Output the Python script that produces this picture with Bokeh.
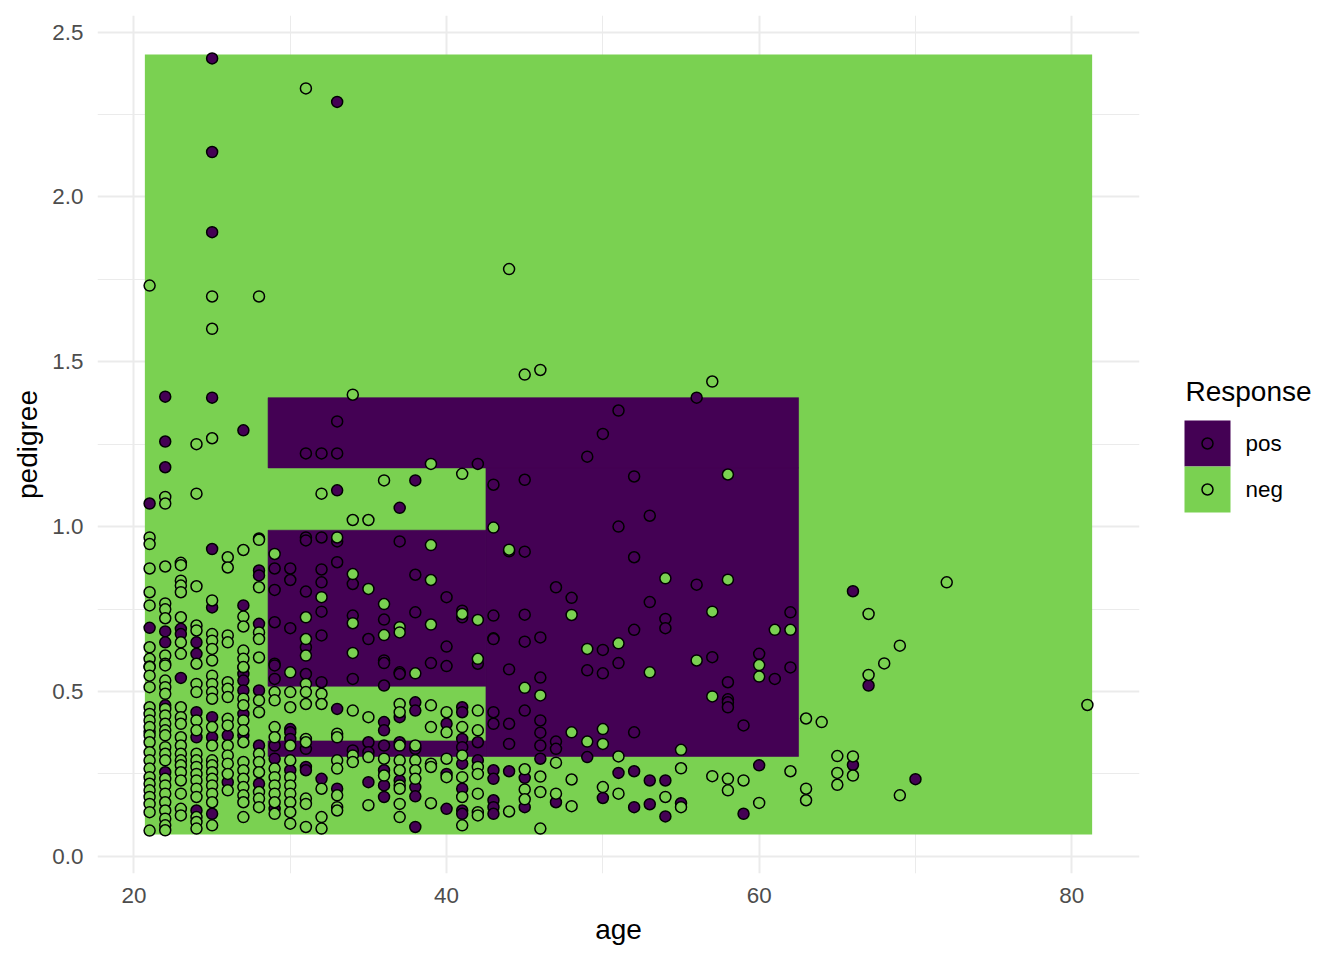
from bokeh.plotting import figure
from bokeh.models import Range1d, FixedTicker, PrintfTickFormatter, ColumnDataSource
from bokeh.layouts import row
from bokeh.embed import file_html
from bokeh.resources import INLINE
from bokeh.core.properties import value

PURPLE = "#440154"
GREEN = "#7AD151"
FONT = "Liberation Sans"

# ---- observations: (age, pedigree), by actual response ----
pos_points = [
    (25, 2.420), (33, 2.288), (25, 2.136), (25, 1.893), (22, 1.394), (25, 1.391), (56, 1.391),
    (33, 1.319), (27, 1.292), (22, 1.258), (31, 1.222), (32, 1.222), (33, 1.222), (51, 1.352),
    (50, 1.281), (49, 1.212), (42, 1.190), (22, 1.180), (45, 1.142), (43, 1.127), (52, 1.152),
    (38, 1.140), (33, 1.110), (21, 1.070), (37, 1.057), (53, 1.033), (51, 1.000), (44, 0.925),
    (45, 0.924), (52, 0.907), (25, 0.932), (28, 0.964), (31, 0.967), (31, 0.958), (32, 0.967),
    (33, 0.955), (37, 0.955), (28, 0.867), (28, 0.852), (29, 0.873), (29, 0.808), (30, 0.873),
    (30, 0.838), (32, 0.870), (32, 0.831), (33, 0.892), (34, 0.826), (38, 0.854), (31, 0.803),
    (40, 0.786), (56, 0.824), (47, 0.816), (48, 0.784), (53, 0.771), (25, 0.755), (27, 0.761),
    (32, 0.742), (34, 0.730), (36, 0.718), (38, 0.740), (41, 0.745), (41, 0.725), (43, 0.730),
    (45, 0.733), (62, 0.740), (66, 0.804), (21, 0.693), (22, 0.682), (22, 0.649), (23, 0.690),
    (23, 0.674), (24, 0.649), (24, 0.614), (28, 0.705), (29, 0.710), (29, 0.584), (30, 0.692),
    (32, 0.670), (35, 0.659), (31, 0.634), (40, 0.636), (43, 0.661), (36, 0.594), (36, 0.586),
    (39, 0.586), (40, 0.577), (42, 0.584), (37, 0.558), (54, 0.720), (54, 0.692), (52, 0.687),
    (43, 0.659), (45, 0.651), (46, 0.664), (50, 0.626), (57, 0.604), (60, 0.614), (61, 0.538),
    (62, 0.573), (44, 0.567), (46, 0.542), (49, 0.564), (50, 0.555), (51, 0.586), (58, 0.528),
    (58, 0.476), (58, 0.467), (58, 0.452), (67, 0.518),
    (21, 0.378), (22, 0.458), (22, 0.255), (23, 0.541), (24, 0.437), (24, 0.361), (24, 0.139),
    (25, 0.422), (25, 0.361), (25, 0.129), (26, 0.367), (26, 0.225), (27, 0.553), (27, 0.533),
    (27, 0.503), (27, 0.432), (27, 0.367), (28, 0.503), (28, 0.336), (28, 0.220), (29, 0.579),
    (29, 0.538), (29, 0.336), (29, 0.296), (29, 0.144),
    (30, 0.386), (30, 0.376), (30, 0.356), (30, 0.261), (31, 0.553), (31, 0.326), (31, 0.271),
    (31, 0.261), (32, 0.528), (32, 0.235), (33, 0.447), (33, 0.205), (34, 0.538), (34, 0.321),
    (35, 0.346), (35, 0.316), (35, 0.225), (36, 0.518), (36, 0.407), (36, 0.382), (36, 0.336),
    (36, 0.261), (36, 0.215), (36, 0.180), (37, 0.553), (37, 0.422), (37, 0.346), (37, 0.230),
    (38, 0.467), (38, 0.442), (38, 0.326), (38, 0.210), (38, 0.182), (38, 0.089), (40, 0.402),
    (40, 0.250), (40, 0.144), (41, 0.452), (41, 0.437), (41, 0.356), (41, 0.331), (41, 0.281),
    (41, 0.205), (41, 0.139), (41, 0.129), (42, 0.346), (42, 0.291), (43, 0.437), (43, 0.402),
    (43, 0.261), (43, 0.235), (43, 0.170), (43, 0.149), (43, 0.129),
    (45, 0.442), (44, 0.402), (46, 0.412), (46, 0.375), (46, 0.336), (46, 0.296), (44, 0.341),
    (47, 0.348), (47, 0.326), (49, 0.301), (52, 0.376), (59, 0.397), (44, 0.258), (45, 0.238),
    (45, 0.149), (47, 0.164), (50, 0.177), (51, 0.253), (52, 0.258), (52, 0.149), (53, 0.230),
    (53, 0.158), (54, 0.230), (54, 0.121), (55, 0.161), (59, 0.129), (60, 0.276), (66, 0.277),
    (70, 0.234),
]

neg_points = [
    (31, 2.329), (21, 1.731), (25, 1.698), (28, 1.698), (25, 1.600), (44, 1.781), (45, 1.461),
    (46, 1.475), (57, 1.440), (34, 1.400), (24, 1.250), (25, 1.268), (58, 1.158), (39, 1.190),
    (36, 1.140), (32, 1.100), (41, 1.160), (34, 1.020), (35, 1.020), (43, 0.997), (44, 0.930),
    (22, 1.090), (22, 1.070), (24, 1.100), (21, 0.967), (21, 0.947), (28, 0.960), (29, 0.917),
    (27, 0.929), (26, 0.907), (26, 0.876), (23, 0.890), (23, 0.883), (22, 0.879), (21, 0.873),
    (28, 0.816), (21, 0.801), (23, 0.836), (23, 0.821), (23, 0.801), (24, 0.819), (21, 0.761),
    (22, 0.767), (22, 0.749), (22, 0.722), (25, 0.776), (27, 0.727), (27, 0.697), (23, 0.725),
    (23, 0.649), (23, 0.614), (24, 0.700), (24, 0.685), (24, 0.584), (25, 0.674), (25, 0.654),
    (25, 0.629), (25, 0.594), (26, 0.670), (26, 0.649), (27, 0.624), (27, 0.599), (27, 0.573),
    (28, 0.679), (28, 0.659), (28, 0.603), (21, 0.634), (21, 0.599), (21, 0.576), (22, 0.609),
    (22, 0.584), (33, 0.967), (39, 0.944), (34, 0.856), (35, 0.811), (39, 0.838), (32, 0.786),
    (36, 0.765), (34, 0.707), (41, 0.735), (42, 0.717), (31, 0.725), (37, 0.695), (37, 0.679),
    (39, 0.703), (36, 0.671), (31, 0.659), (31, 0.609), (34, 0.617), (42, 0.599), (30, 0.558),
    (38, 0.555), (54, 0.843), (58, 0.839), (48, 0.732), (57, 0.742), (61, 0.687), (62, 0.687),
    (49, 0.629), (51, 0.646), (56, 0.594), (60, 0.580), (60, 0.545), (53, 0.558), (45, 0.511),
    (46, 0.488), (57, 0.485), (72, 0.831), (67, 0.735), (69, 0.639), (68, 0.585), (67, 0.550),
    (63, 0.418), (64, 0.407), (81, 0.459),
    # age 21
    (21, 0.574), (21, 0.548), (21, 0.513), (21, 0.452), (21, 0.432), (21, 0.412), (21, 0.392),
    (21, 0.367), (21, 0.346), (21, 0.316), (21, 0.291), (21, 0.266), (21, 0.240), (21, 0.220),
    (21, 0.200), (21, 0.180), (21, 0.159), (21, 0.134), (21, 0.078),
    # age 22
    (22, 0.579), (22, 0.533), (22, 0.513), (22, 0.493), (22, 0.447), (22, 0.427), (22, 0.402),
    (22, 0.382), (22, 0.367), (22, 0.331), (22, 0.311), (22, 0.291), (22, 0.235), (22, 0.215),
    (22, 0.190), (22, 0.164), (22, 0.139), (22, 0.114), (22, 0.094), (22, 0.079),
    # age 23
    (23, 0.452), (23, 0.422), (23, 0.402), (23, 0.361), (23, 0.336), (23, 0.311), (23, 0.291),
    (23, 0.276), (23, 0.255), (23, 0.230), (23, 0.190), (23, 0.144), (23, 0.124),
    # age 24
    (24, 0.523), (24, 0.498), (24, 0.412), (24, 0.382), (24, 0.311), (24, 0.291), (24, 0.271),
    (24, 0.250), (24, 0.230), (24, 0.205), (24, 0.180), (24, 0.119), (24, 0.104), (24, 0.084),
    # age 25
    (25, 0.548), (25, 0.523), (25, 0.498), (25, 0.478), (25, 0.392), (25, 0.336), (25, 0.291),
    (25, 0.276), (25, 0.255), (25, 0.235), (25, 0.215), (25, 0.190), (25, 0.164), (25, 0.094),
    # age 26
    (26, 0.528), (26, 0.508), (26, 0.483), (26, 0.417), (26, 0.397), (26, 0.336), (26, 0.306),
    (26, 0.281), (26, 0.250), (26, 0.200),
    # age 27
    (27, 0.574), (27, 0.478), (27, 0.458), (27, 0.412), (27, 0.382), (27, 0.346), (27, 0.286),
    (27, 0.261), (27, 0.235), (27, 0.210), (27, 0.185), (27, 0.164), (27, 0.119),
    # age 28-29
    (28, 0.473), (28, 0.437), (28, 0.311), (28, 0.286), (28, 0.255), (28, 0.195), (28, 0.175),
    (28, 0.149), (29, 0.498), (29, 0.473), (29, 0.392), (29, 0.361), (29, 0.266), (29, 0.240),
    (29, 0.215), (29, 0.190), (29, 0.164), (29, 0.129),
    # age 30-42
    (30, 0.498), (30, 0.452), (30, 0.336), (30, 0.291), (30, 0.240), (30, 0.215), (30, 0.190),
    (30, 0.164), (30, 0.134), (30, 0.099), (31, 0.523), (31, 0.498), (31, 0.462), (31, 0.356),
    (31, 0.346), (31, 0.175), (31, 0.159), (31, 0.089), (32, 0.493), (32, 0.462), (32, 0.205),
    (32, 0.119), (32, 0.084), (33, 0.372), (33, 0.361), (33, 0.291), (33, 0.266), (33, 0.185),
    (33, 0.149), (33, 0.139), (34, 0.442), (34, 0.306), (34, 0.286), (35, 0.422), (35, 0.301),
    (35, 0.155), (36, 0.296), (36, 0.245), (37, 0.462), (37, 0.437), (37, 0.336), (37, 0.291),
    (37, 0.261), (37, 0.215), (37, 0.205), (37, 0.159), (37, 0.119), (38, 0.336), (38, 0.291),
    (38, 0.261), (38, 0.235), (39, 0.458), (39, 0.392), (39, 0.281), (39, 0.271), (39, 0.161),
    (40, 0.437), (40, 0.376), (40, 0.296), (40, 0.240), (41, 0.392), (41, 0.306), (41, 0.240),
    (41, 0.180), (41, 0.094), (42, 0.442), (42, 0.382), (42, 0.271), (42, 0.250), (42, 0.190),
    (42, 0.134), (42, 0.124),
    # age 44 and older, low pedigree
    (47, 0.284), (48, 0.376), (49, 0.348), (50, 0.386), (50, 0.341), (51, 0.303), (55, 0.323),
    (45, 0.264), (45, 0.203), (45, 0.173), (46, 0.242), (46, 0.195), (46, 0.084), (47, 0.190),
    (44, 0.136), (48, 0.233), (48, 0.152), (50, 0.210), (51, 0.190), (54, 0.180), (55, 0.267),
    (55, 0.149), (57, 0.243), (58, 0.235), (58, 0.200), (59, 0.230), (60, 0.162), (62, 0.258),
    (63, 0.205), (63, 0.170), (65, 0.304), (65, 0.253), (65, 0.217), (66, 0.303), (66, 0.245),
    (69, 0.185),
]

# ---- fitted tree: regions predicted "pos" (everything else predicted "neg") ----
pos_region_age_lo = [28.58, 42.52, 28.58, 28.58]
pos_region_age_hi = [62.52, 62.52, 42.52, 42.52]
pos_region_ped_lo = [1.178, 0.303, 0.516, 0.303]
pos_region_ped_hi = [1.391, 1.178, 0.989, 0.350]

classes = ["pos", "neg"]
class_colors = [PURPLE, GREEN]

x_ticks = [20, 40, 60, 80]
x_minor = [30, 50, 70]
y_ticks = [0.0, 0.5, 1.0, 1.5, 2.0, 2.5]
y_minor = [0.25, 0.75, 1.25, 1.75, 2.25]

# ---- derived geometry ----
ages = [a for a, _ in pos_points + neg_points]
peds = [b for _, b in pos_points + neg_points]
GRID_N = 100
half_a = (max(ages) - min(ages)) / (GRID_N - 1) / 2
half_p = (max(peds) - min(peds)) / (GRID_N - 1) / 2
bg_l, bg_r = min(ages) - half_a, max(ages) + half_a
bg_b, bg_t = min(peds) - half_p, max(peds) + half_p
ex = 0.05 * (bg_r - bg_l)
ey = 0.05 * (bg_t - bg_b)

FW, FH = 1042, 858
BL, BR, BT, BB = 97, 8, 15, 80

p = figure(
    frame_width=FW, frame_height=FH,
    x_range=Range1d(bg_l - ex, bg_r + ex), y_range=Range1d(bg_b - ey, bg_t + ey),
    output_backend="svg", toolbar_location=None,
    min_border_left=BL, min_border_right=BR, min_border_top=BT, min_border_bottom=BB,
)
p.outline_line_color = None
p.background_fill_color = "white"
p.border_fill_color = "white"

xt = FixedTicker(ticks=x_ticks, minor_ticks=x_minor)
yt = FixedTicker(ticks=y_ticks, minor_ticks=y_minor)
p.xaxis.ticker = xt
p.yaxis.ticker = yt
p.xgrid.ticker = xt
p.ygrid.ticker = yt
p.yaxis.formatter = PrintfTickFormatter(format="%.1f")

for g in (p.xgrid, p.ygrid):
    g.grid_line_color = "#EBEBEB"
    g.grid_line_width = 2
    g.minor_grid_line_color = "#EBEBEB"
    g.minor_grid_line_width = 1

for ax in (p.xaxis, p.yaxis):
    ax.axis_line_color = None
    ax.major_tick_line_color = None
    ax.minor_tick_line_color = None
    ax.major_tick_out = 0
    ax.major_tick_in = 0
    ax.minor_tick_out = 0
    ax.minor_tick_in = 0
    ax.major_label_text_font = FONT
    ax.major_label_text_font_size = "22.4px"
    ax.major_label_text_color = "#4D4D4D"
    ax.axis_label_text_font = FONT
    ax.axis_label_text_font_size = "28px"
    ax.axis_label_text_font_style = "normal"
    ax.axis_label_text_color = "black"

p.xaxis.axis_label = "age"
p.yaxis.axis_label = "pedigree"
p.xaxis.major_label_standoff = 14
p.xaxis.axis_label_standoff = 8
p.yaxis.major_label_standoff = 14
p.yaxis.axis_label_standoff = 6

# background (predicted neg) and predicted-pos regions
p.quad(left=[bg_l], right=[bg_r], bottom=[bg_b], top=[bg_t],
       fill_color=class_colors[1], line_color=None)
p.quad(left=pos_region_age_lo, right=pos_region_age_hi,
       bottom=pos_region_ped_lo, top=pos_region_ped_hi,
       fill_color=class_colors[0], line_color=class_colors[0], line_width=0.6)

pts = pos_points + neg_points
src = ColumnDataSource(dict(
    age=[a for a, _ in pts],
    pedigree=[b for _, b in pts],
    color=[class_colors[0]] * len(pos_points) + [class_colors[1]] * len(neg_points),
))
p.scatter("age", "pedigree", source=src, size=11, fill_color="color",
          line_color="black", line_width=1.5)

# ---- legend panel (frame aligned with the main frame; coordinates in page pixels) ----
LX0 = BL + FW + BR
LW = 1336 - LX0
leg = figure(frame_width=LW, frame_height=FH,
             x_range=Range1d(LX0, LX0 + LW), y_range=Range1d(BT + FH, BT),
             output_backend="svg", toolbar_location=None,
             x_axis_location=None, y_axis_location=None,
             min_border_left=0, min_border_right=0, min_border_top=BT, min_border_bottom=BB)
leg.grid.visible = False
leg.outline_line_color = None
leg.border_fill_color = "white"
leg.background_fill_color = "white"

key_x0, key_w, key_y0 = 1184, 46, 420
leg.text(x=[1185], y=[391], text=["Response"], text_font=value(FONT),
         text_font_size="28px", text_color="black", text_baseline="middle")
leg.quad(left=[key_x0] * 2, right=[key_x0 + key_w] * 2,
         top=[key_y0, key_y0 + key_w], bottom=[key_y0 + key_w, key_y0 + 2 * key_w],
         fill_color=class_colors, line_color=None)
cy = [key_y0 + key_w / 2, key_y0 + 1.5 * key_w]
leg.scatter(x=[key_x0 + key_w / 2] * 2, y=cy, size=11, fill_color=None,
            line_color="black", line_width=1.5)
leg.text(x=[1245] * 2, y=cy, text=classes, text_font=value(FONT),
         text_font_size="22.4px", text_color="black", text_baseline="middle")

layout = row(p, leg)
open("out.html", "w").write(file_html(layout, INLINE))
